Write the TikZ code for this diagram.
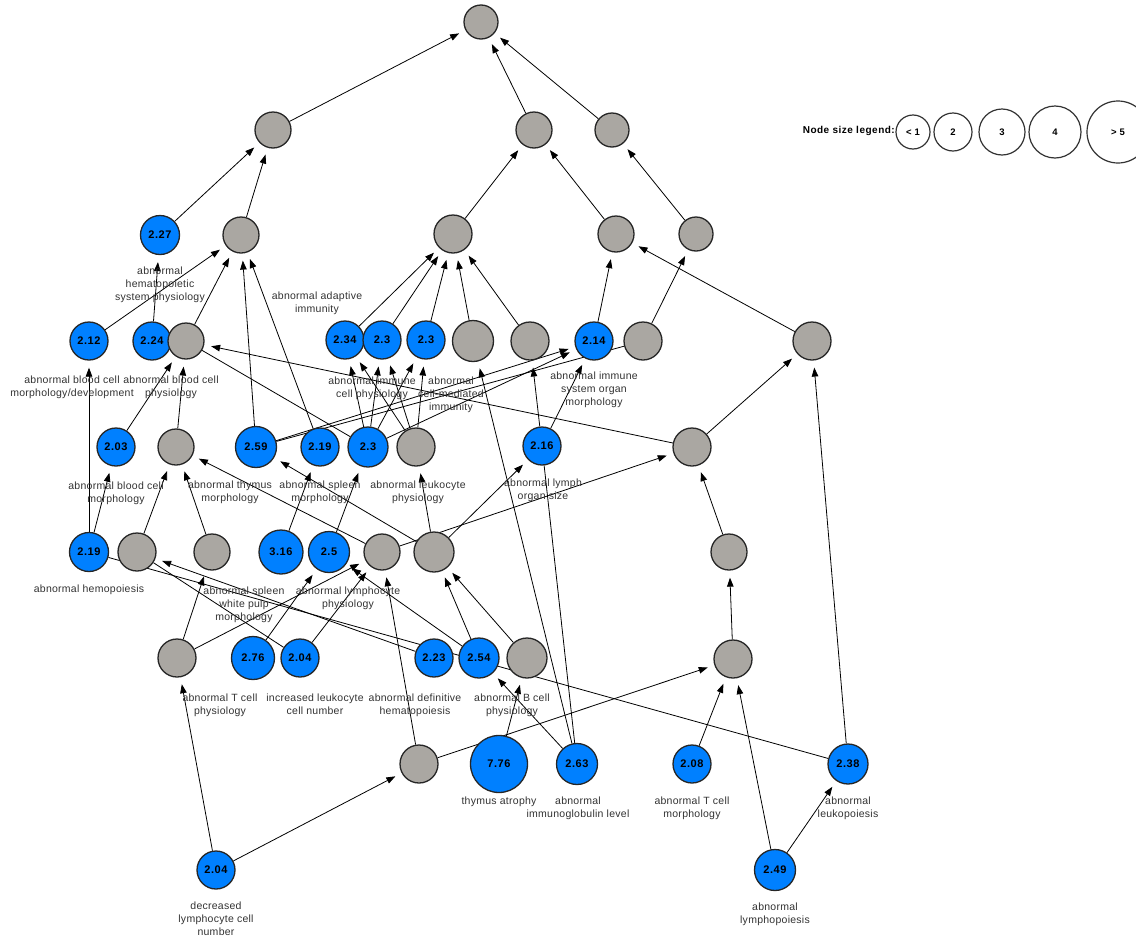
\documentclass[tikz,border=0pt]{standalone}
\usepackage{fontspec}
\setmainfont{Liberation Sans}
\newfontfamily\labfont[LetterSpace=2.5]{Liberation Sans}
\newfontfamily\numfont[LetterSpace=5]{Liberation Sans}
\usetikzlibrary{arrows.meta}
\pgfdeclarelayer{bg}
\pgfsetlayers{bg,main}
\definecolor{nblue}{RGB}{0,128,255}
\definecolor{ngray}{RGB}{170,167,162}
\definecolor{ntext}{RGB}{50,50,50}
\tikzset{
  gn/.style={circle,draw=black!85,line width=1.3pt,fill=ngray,inner sep=0pt,minimum size=#1},
  bn/.style={circle,draw=black!85,line width=1.3pt,fill=nblue,inner sep=0pt,minimum size=#1,font=\numfont\bfseries\fontsize{11}{12}\selectfont},
  legc/.style={circle,draw=black!80,line width=1.2pt,fill=white,inner sep=0pt,minimum size=#1,font=\numfont\bfseries\fontsize{9.5}{10}\selectfont},
  lab/.style={align=center,inner sep=0pt,anchor=north,text=ntext,font=\labfont\fontsize{10.5}{13}\selectfont},
  edge/.style={line width=0.8pt,-{Triangle[length=9pt,width=6.5pt]},shorten >=7pt},
  plain/.style={line width=0.8pt}
}
\begin{document}
\begin{tikzpicture}[x=1pt,y=-1pt]
\useasboundingbox (0,0) rectangle (1136,940);
\clip (0,0) rectangle (1136,940);
% nodes
\node[gn=34] (N1) at (481,22) {};
\node[gn=36] (N2) at (273,130) {};
\node[gn=36] (N3) at (534,130) {};
\node[gn=34] (N4) at (612,130) {};
\node[bn=39] (N5) at (160,235) {2.27};
\node[gn=36] (N6) at (241,235) {};
\node[gn=38] (N7) at (453,234) {};
\node[gn=36] (N8) at (616,234) {};
\node[gn=34] (N9) at (696,234) {};
\node[bn=38] (N10) at (89,341) {2.12};
\node[bn=38] (N11) at (152,341) {2.24};
\node[gn=36] (N12) at (186,341) {};
\node[bn=38] (N13) at (345,340) {2.34};
\node[bn=38] (N14) at (382,340) {2.3};
\node[bn=38] (N15) at (426,340) {2.3};
\node[gn=41] (N16) at (473,341) {};
\node[gn=38] (N17) at (530,341) {};
\node[bn=38] (N18) at (594,341) {2.14};
\node[gn=38] (N19) at (643,341) {};
\node[gn=38] (N20) at (812,341) {};
\node[bn=38] (N21) at (116,447) {2.03};
\node[gn=36] (N22) at (176,447) {};
\node[bn=41] (N23) at (256,447) {2.59};
\node[bn=38] (N24) at (320,447) {2.19};
\node[bn=40] (N25) at (368,447) {2.3};
\node[gn=38] (N26) at (416,447) {};
\node[bn=38] (N27) at (542,446) {2.16};
\node[gn=38] (N28) at (692,447) {};
\node[bn=39] (N29) at (89,552) {2.19};
\node[gn=38] (N30) at (137,552) {};
\node[gn=36] (N31) at (212,552) {};
\node[bn=44] (N32) at (281,552) {3.16};
\node[bn=41] (N33) at (329,552) {2.5};
\node[gn=36] (N34) at (382,552) {};
\node[gn=40] (N35) at (434,552) {};
\node[gn=36] (N36) at (729,552) {};
\node[gn=38] (N37) at (177,658) {};
\node[bn=43] (N38) at (253,658) {2.76};
\node[bn=38] (N39) at (300,658) {2.04};
\node[bn=38] (N40) at (434,658) {2.23};
\node[bn=40] (N41) at (479,658) {2.54};
\node[gn=40] (N42) at (527,658) {};
\node[gn=38] (N43) at (733,659) {};
\node[gn=38] (N44) at (419,764) {};
\node[bn=57] (N45) at (499,764) {7.76};
\node[bn=41] (N46) at (577,764) {2.63};
\node[bn=38] (N47) at (692,764) {2.08};
\node[bn=40] (N48) at (848,764) {2.38};
\node[bn=38] (N49) at (216,870) {2.04};
\node[bn=41] (N50) at (775,870) {2.49};
% edges
\begin{pgfonlayer}{bg}
\draw[edge] (N2) -- (N1);
\draw[edge] (N3) -- (N1);
\draw[edge] (N4) -- (N1);
\draw[edge] (N5) -- (N2);
\draw[edge] (N6) -- (N2);
\draw[edge] (N7) -- (N3);
\draw[edge] (N8) -- (N3);
\draw[edge] (N9) -- (N4);
\draw[edge] (N20) -- (N8);
\draw[edge] (N19) -- (N9);
\draw[edge] (N18) -- (N8);
\draw[edge] (N13) -- (N7);
\draw[edge] (N14) -- (N7);
\draw[edge] (N15) -- (N7);
\draw[edge] (N16) -- (N7);
\draw[edge] (N17) -- (N7);
\draw[edge] (N12) -- (N6);
\draw[edge] (N10) -- (N6);
\draw[edge] (N11) -- (N5);
\draw[edge] (N23) -- (N6);
\draw[edge] (N24) -- (N6);
\draw[edge] (N21) -- (N12);
\draw[edge] (N22) -- (N12);
\draw[edge] (N28) -- (N12);
\draw[plain] (N12) -- (N25);
\draw[edge] (N25) -- (N13);
\draw[edge] (N25) -- (N14);
\draw[edge] (N25) -- (N15);
\draw[edge] (N26) -- (N13);
\draw[edge] (N26) -- (N14);
\draw[edge] (N26) -- (N15);
\draw[edge] (N23) -- (N18);
\draw[edge] (N25) -- (N18);
\draw[plain] (N23) -- (N19);
\draw[edge] (N27) -- (N18);
\draw[edge] (N27) -- (N17);
\draw[edge] (N46) -- (N16);
\draw[plain] (N46) -- (N27);
\draw[edge] (N29) -- (N10);
\draw[edge] (N29) -- (N21);
\draw[edge] (N30) -- (N22);
\draw[edge] (N31) -- (N22);
\draw[edge] (N34) -- (N22);
\draw[edge] (N35) -- (N23);
\draw[edge] (N32) -- (N24);
\draw[edge] (N33) -- (N25);
\draw[edge] (N35) -- (N26);
\draw[edge] (N35) -- (N27);
\draw[edge] (N34) -- (N28);
\draw[edge] (N36) -- (N28);
\draw[edge] (N28) -- (N20);
\draw[edge] (N48) -- (N20);
\draw[edge] (N43) -- (N36);
\draw[edge] (N47) -- (N43);
\draw[edge] (N50) -- (N43);
\draw[edge] (N44) -- (N43);
\draw[edge] (N50) -- (N48);
\draw[edge] (N49) -- (N37);
\draw[edge] (N49) -- (N44);
\draw[edge] (N37) -- (N31);
\draw[edge] (N37) -- (N34);
\draw[edge] (N39) -- (N34);
\draw[edge] (N38) -- (N33);
\draw[edge] (N41) -- (N33);
\draw[edge] (N44) -- (N34);
\draw[edge] (N41) -- (N35);
\draw[edge] (N42) -- (N35);
\draw[edge] (N45) -- (N42);
\draw[edge] (N46) -- (N41);
\draw[edge] (N40) -- (N30);
\draw[plain] (N30) -- (N39);
\draw[plain] (N29) -- (N48);
\end{pgfonlayer}
% labels
\node[lab] (L1) at (160,267) {abnormal\\hematopoietic\\system physiology};
\node[lab] (L2) at (317,292) {abnormal adaptive\\immunity};
\node[lab] (L3) at (72,376) {abnormal blood cell\\morphology/development};
\node[lab] (L4) at (171,376) {abnormal blood cell\\physiology};
\node[lab] (L5) at (372,377) {abnormal immune\\cell physiology};
\node[lab] (L6) at (451,377) {abnormal\\cell-mediated\\immunity};
\node[lab] (L7) at (594,372) {abnormal immune\\system organ\\morphology};
\node[lab] (L8) at (116,482) {abnormal blood cell\\morphology};
\node[lab] (L9) at (230,481) {abnormal thymus\\morphology};
\node[lab] (L10) at (320,481) {abnormal spleen\\morphology};
\node[lab] (L11) at (418,481) {abnormal leukocyte\\physiology};
\node[lab] (L12) at (543,479) {abnormal lymph\\organ size};
\node[lab] (L13) at (89,585) {abnormal hemopoiesis};
\node[lab] (L14) at (244,587) {abnormal spleen\\white pulp\\morphology};
\node[lab] (L15) at (348,587) {abnormal lymphocyte\\physiology};
\node[lab] (L16) at (220,694) {abnormal T cell\\physiology};
\node[lab] (L17) at (315,694) {increased leukocyte\\cell number};
\node[lab] (L18) at (415,694) {abnormal definitive\\hematopoiesis};
\node[lab] (L19) at (512,694) {abnormal B cell\\physiology};
\node[lab] (L20) at (499,797) {thymus atrophy};
\node[lab] (L21) at (578,797) {abnormal\\immunoglobulin level};
\node[lab] (L22) at (692,797) {abnormal T cell\\morphology};
\node[lab] (L23) at (848,797) {abnormal\\leukopoiesis};
\node[lab] (L24) at (775,903) {abnormal\\lymphopoiesis};
\node[lab] (L25) at (216,902) {decreased\\lymphocyte cell\\number};
% legend
\node[anchor=east,inner sep=0pt,font=\numfont\bfseries\fontsize{10}{11}\selectfont] (LT) at (895,131) {Node size legend:};
\node[legc=34] (LG1) at (913,132) {< 1};
\node[legc=38] (LG2) at (953,132) {2};
\node[legc=46] (LG3) at (1002,132) {3};
\node[legc=52] (LG4) at (1055,132) {4};
\node[legc=62] (LG5) at (1118,132) {> 5};
\end{tikzpicture}
\end{document}
